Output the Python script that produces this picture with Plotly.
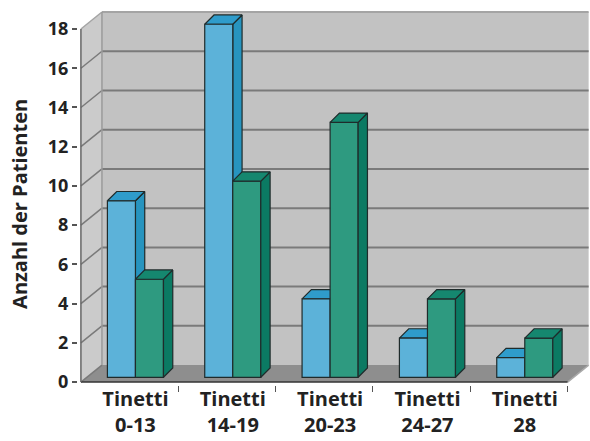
import plotly.graph_objects as go

# ---- data ----
categories = ["Tinetti<br>0-13", "Tinetti<br>14-19", "Tinetti<br>20-23", "Tinetti<br>24-27", "Tinetti<br>28"]
series_blue = [9, 18, 4, 2, 1]
series_green = [5, 10, 13, 4, 2]
y_ticks = [0, 2, 4, 6, 8, 10, 12, 14, 16, 18]
y_title = "Anzahl der Patienten"

# ---- styling / geometry (in axis units) ----
FONT = "Open Sans"
DX, DY = 0.216, 0.867          # wall depth
SX, SY = 0.06, 0.243           # bar front-face depth shift
W = 0.288                      # bar width
BDX, BDY = 0.0956, 0.474       # bar depth
XL, XR = -0.5, len(categories) - 0.5
YMAX = y_ticks[-1]

BLUE_F, BLUE_S, BLUE_T = "#5cb2d9", "#2794bf", "#2f9ccb"
GREEN_F, GREEN_S, GREEN_T = "#2e9a80", "#0b7a63", "#15876f"
EDGE = "#1f2b2b"

idx = list(range(len(categories)))


def side_and_top(x0_list, heights):
    sx, sy, tx, ty = [], [], [], []
    for x0, h in zip(x0_list, heights):
        x1 = x0 + W
        sx += [x1, x1 + BDX, x1 + BDX, x1, x1, None]
        sy += [SY, SY + BDY, SY + h + BDY, SY + h, SY, None]
        tx += [x0, x1, x1 + BDX, x0 + BDX, x0, None]
        ty += [SY + h, SY + h, SY + h + BDY, SY + h + BDY, SY + h, None]
    return sx, sy, tx, ty


blue_x0 = [i + SX - W for i in idx]
green_x0 = [i + SX for i in idx]

fig = go.Figure()

# blue side/top faces (base subplot, below everything else)
bsx, bsy, btx, bty = side_and_top(blue_x0, series_blue)
fig.add_trace(go.Scatter(x=bsx, y=bsy, fill="toself", fillcolor=BLUE_S, mode="lines",
                         line=dict(color=EDGE, width=1.2), hoverinfo="skip", showlegend=False))
fig.add_trace(go.Scatter(x=btx, y=bty, fill="toself", fillcolor=BLUE_T, mode="lines",
                         line=dict(color=EDGE, width=1.2), hoverinfo="skip", showlegend=False))

# front faces (overlay subplot)
fig.add_trace(go.Bar(x=[i + SX for i in idx], y=series_blue, base=SY, width=W, offset=-W,
                     marker=dict(color=BLUE_F, line=dict(color=EDGE, width=1.2)),
                     xaxis="x2", yaxis="y2", showlegend=False))
fig.add_trace(go.Bar(x=[i + SX for i in idx], y=series_green, base=SY, width=W, offset=0,
                     marker=dict(color=GREEN_F, line=dict(color=EDGE, width=1.2)),
                     xaxis="x2", yaxis="y2", showlegend=False))

gsx, gsy, gtx, gty = side_and_top(green_x0, series_green)
fig.add_trace(go.Scatter(x=gsx, y=gsy, fill="toself", fillcolor=GREEN_S, mode="lines",
                         line=dict(color=EDGE, width=1.2), hoverinfo="skip", showlegend=False,
                         xaxis="x2", yaxis="y2"))
fig.add_trace(go.Scatter(x=gtx, y=gty, fill="toself", fillcolor=GREEN_T, mode="lines",
                         line=dict(color=EDGE, width=1.2), hoverinfo="skip", showlegend=False,
                         xaxis="x2", yaxis="y2"))

# ---- walls, floor, grid ----
shapes = []
shapes.append(dict(type="path", xref="x", yref="y", layer="below",
                   path=f"M {XL},0 L {XL+DX},{DY} L {XL+DX},{YMAX+DY} L {XL},{YMAX} Z",
                   fillcolor="#cbcbcb", line=dict(width=0)))
shapes.append(dict(type="rect", xref="x", yref="y", layer="below",
                   x0=XL + DX, x1=XR + DX, y0=DY, y1=YMAX + DY,
                   fillcolor="#c2c2c2", line=dict(width=0)))
shapes.append(dict(type="path", xref="x", yref="y", layer="below",
                   path=f"M {XL},0 L {XR},0 L {XR+DX},{DY} L {XL+DX},{DY} Z",
                   fillcolor="#8e8e8e", line=dict(width=0)))
for v in y_ticks:
    col = "#7a7a7a" if v < YMAX else "#a4a4a4"
    if v > 0:
        shapes.append(dict(type="line", xref="x", yref="y", layer="below",
                           x0=XL + DX, x1=XR + DX, y0=v + DY, y1=v + DY,
                           line=dict(color=col, width=2)))
    shapes.append(dict(type="line", xref="x", yref="y", layer="below",
                       x0=XL, x1=XL + DX, y0=v, y1=v + DY,
                       line=dict(color=col, width=1.5)))
shapes.append(dict(type="line", xref="x", yref="y", layer="below",
                   x0=XL + DX, x1=XL + DX, y0=DY, y1=YMAX + DY,
                   line=dict(color="#9a9a9a", width=1.5)))
shapes.append(dict(type="line", xref="x", yref="y", layer="below",
                   x0=XR, x1=XR + DX, y0=0, y1=DY,
                   line=dict(color="#a8a8a8", width=1.5)))
# front axis lines
shapes.append(dict(type="line", xref="x", yref="y", layer="below",
                   x0=XL, x1=XR, y0=0, y1=0, line=dict(color="#333333", width=1.5)))
shapes.append(dict(type="line", xref="x", yref="y", layer="below",
                   x0=XL, x1=XL, y0=0, y1=YMAX, line=dict(color="#666666", width=1.5)))

xrange = [-0.53, XR + 0.23]
yrange = [-0.15, 18.97]

fig.update_layout(
    width=590, height=441,
    margin=dict(l=78, r=0, t=10, b=56),
    paper_bgcolor="white", plot_bgcolor="rgba(0,0,0,0)",
    barmode="overlay",
    shapes=shapes,
    font=dict(family=FONT, color="#222222"),
    xaxis=dict(range=xrange, tickmode="array", tickvals=[i + SX for i in idx], ticktext=categories,
               ticks="", showgrid=False, zeroline=False, showline=False,
               tickfont=dict(family=FONT, size=20, color="#222222", weight="bold"),
               minor=dict(tickmode="array", tickvals=[i + 0.5 for i in idx], ticks="outside",
                          ticklen=6, tickwidth=1.2, tickcolor="#555555", showgrid=False)),
    yaxis=dict(range=yrange, tickmode="array", tickvals=y_ticks, ticks="outside", ticklen=5,
               tickwidth=1.5, tickcolor="#555555", showgrid=False, zeroline=False, showline=False,
               tickfont=dict(family=FONT, size=18, color="#222222", weight="bold")),
    xaxis2=dict(range=xrange, overlaying="x", visible=False),
    yaxis2=dict(range=yrange, overlaying="y", visible=False),
    annotations=[dict(text=y_title, xref="paper", yref="paper", x=-58 / 512, y=0.483,
                      xanchor="center", yanchor="middle", textangle=-90, showarrow=False,
                      font=dict(family=FONT, size=20, color="#222222", weight="bold"))],
)

fig.write_html("out.html")
